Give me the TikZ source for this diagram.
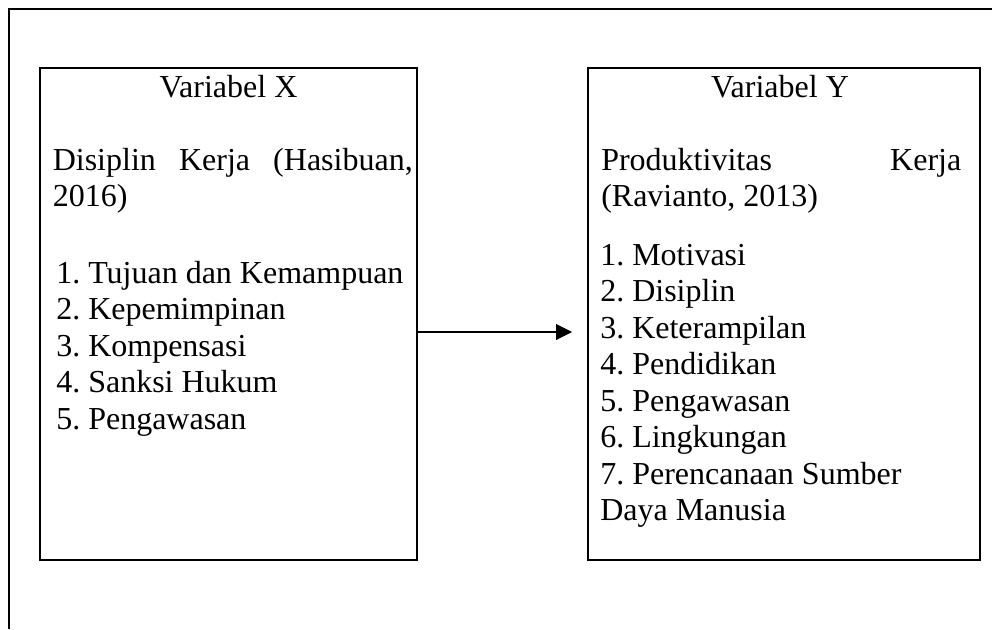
\documentclass[tikz,border=0pt]{standalone}
\usepackage{fontspec}
\setmainfont{Liberation Serif}
\usetikzlibrary{arrows.meta}
\frenchspacing

\tikzstyle{kotak} = [draw, line width=1.3pt, inner sep=0pt, anchor=north west, minimum height=369pt]
\tikzstyle{judul} = [anchor=base, inner sep=0pt]
\tikzstyle{isi} = [anchor=base west, inner sep=0pt]
\tikzstyle{panah} = [line width=0.8pt, -{Triangle[length=12pt,width=12pt]}]

\begin{document}
\begin{tikzpicture}[x=0.75pt, y=-0.75pt, font={\fontsize{24}{27.4}\selectfont}]
\useasboundingbox (0,0) rectangle (992,629);
%bingkai
\draw[line width=1.5pt] (9,629) -- (9,9) -- (992,9);
%begin kotak X
\node[kotak, minimum width=282.75pt] (kotakX) at (39,67) {};
\node[judul] (judulX) at (228.5,97) {Variabel X};
\node[isi] (teoriX) at (52.5,170) {\parbox[t]{270pt}{Disiplin Kerja (Hasibuan,\linebreak 2016)}};
\node[isi] (indikatorX) at (56,283) {\parbox[t]{300pt}{1. Tujuan dan Kemampuan\\
    2. Kepemimpinan\\
    3. Kompensasi\\
    4. Sanksi Hukum\\
    5. Pengawasan}};
%end kotak X
%begin kotak Y
\node[kotak, minimum width=294pt] (kotakY) at (587,67) {};
\node[judul] (judulY) at (780,97) {Variabel Y};
\node[isi] (teoriY) at (601,170) {\parbox[t]{270pt}{Produktivitas Kerja\linebreak (Ravianto, 2013)}};
\node[isi] (indikatorY) at (600,265) {\parbox[t]{300pt}{1. Motivasi\\
    2. Disiplin\\
    3. Keterampilan\\
    4. Pendidikan\\
    5. Pengawasan\\
    6. Lingkungan\\
    7. Perencanaan Sumber\\
    Daya Manusia}};
%end kotak Y
%panah X ke Y
\coordinate (ujung) at (572,332);
\draw[panah] (kotakX.east |- ujung) -- (ujung);
\end{tikzpicture}
\end{document}
